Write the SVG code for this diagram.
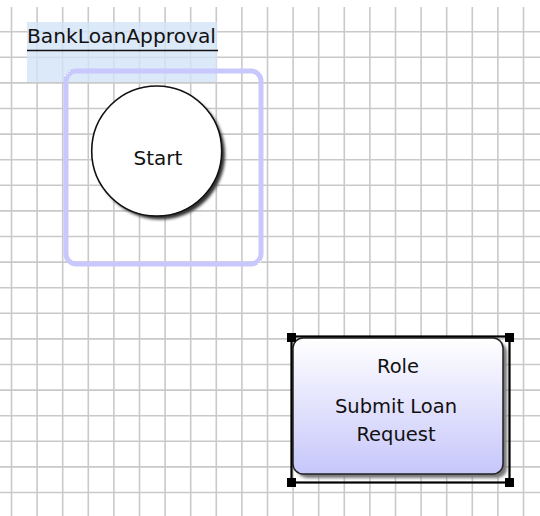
<svg xmlns="http://www.w3.org/2000/svg" width="540" height="516" viewBox="0 0 540 516">
  <style>
    .grid line { stroke: #c9c9c9; stroke-width: 1.6; }
    .txt { font-family: "DejaVu Sans", Tahoma, sans-serif; fill: #111; }
  </style>
  <defs>
    <linearGradient id="roleFill" x1="0" y1="0" x2="0" y2="1">
      <stop offset="0" stop-color="#ffffff"/>
      <stop offset="1" stop-color="#c6c6fb"/>
    </linearGradient>
    <filter id="blur" x="-10%" y="-10%" width="120%" height="120%">
      <feGaussianBlur stdDeviation="1.5"/>
    </filter>
  </defs>
  <rect width="540" height="516" fill="#ffffff"/>
  <g class="grid">
    <line x1="11.5" y1="7" x2="11.5" y2="516"/>
    <line x1="37.1" y1="7" x2="37.1" y2="516"/>
    <line x1="62.7" y1="7" x2="62.7" y2="516"/>
    <line x1="88.3" y1="7" x2="88.3" y2="516"/>
    <line x1="113.9" y1="7" x2="113.9" y2="516"/>
    <line x1="139.5" y1="7" x2="139.5" y2="516"/>
    <line x1="165.1" y1="7" x2="165.1" y2="516"/>
    <line x1="190.7" y1="7" x2="190.7" y2="516"/>
    <line x1="216.3" y1="7" x2="216.3" y2="516"/>
    <line x1="241.9" y1="7" x2="241.9" y2="516"/>
    <line x1="267.5" y1="7" x2="267.5" y2="516"/>
    <line x1="293.1" y1="7" x2="293.1" y2="516"/>
    <line x1="318.7" y1="7" x2="318.7" y2="516"/>
    <line x1="344.3" y1="7" x2="344.3" y2="516"/>
    <line x1="369.9" y1="7" x2="369.9" y2="516"/>
    <line x1="395.5" y1="7" x2="395.5" y2="516"/>
    <line x1="421.1" y1="7" x2="421.1" y2="516"/>
    <line x1="446.7" y1="7" x2="446.7" y2="516"/>
    <line x1="472.3" y1="7" x2="472.3" y2="516"/>
    <line x1="497.9" y1="7" x2="497.9" y2="516"/>
    <line x1="523.5" y1="7" x2="523.5" y2="516"/>
    <line x1="0" y1="31.7" x2="540" y2="31.7"/>
    <line x1="0" y1="57.3" x2="540" y2="57.3"/>
    <line x1="0" y1="82.9" x2="540" y2="82.9"/>
    <line x1="0" y1="108.5" x2="540" y2="108.5"/>
    <line x1="0" y1="134.1" x2="540" y2="134.1"/>
    <line x1="0" y1="159.7" x2="540" y2="159.7"/>
    <line x1="0" y1="185.3" x2="540" y2="185.3"/>
    <line x1="0" y1="210.9" x2="540" y2="210.9"/>
    <line x1="0" y1="236.5" x2="540" y2="236.5"/>
    <line x1="0" y1="262.1" x2="540" y2="262.1"/>
    <line x1="0" y1="287.7" x2="540" y2="287.7"/>
    <line x1="0" y1="313.3" x2="540" y2="313.3"/>
    <line x1="0" y1="338.9" x2="540" y2="338.9"/>
    <line x1="0" y1="364.5" x2="540" y2="364.5"/>
    <line x1="0" y1="390.1" x2="540" y2="390.1"/>
    <line x1="0" y1="415.7" x2="540" y2="415.7"/>
    <line x1="0" y1="441.3" x2="540" y2="441.3"/>
    <line x1="0" y1="466.9" x2="540" y2="466.9"/>
    <line x1="0" y1="492.5" x2="540" y2="492.5"/>
  </g>

  <g id="title">
    <rect x="27" y="22" width="190" height="60" fill="#d3e3f7" fill-opacity="0.8"/>
    <text class="txt" x="27" y="43" font-size="19" textLength="189" lengthAdjust="spacingAndGlyphs">BankLoanApproval</text>
    <line x1="27" y1="50.5" x2="218" y2="50.5" stroke="#111" stroke-width="1.5"/>
  </g>

  <g id="start-selection">
    <rect x="66" y="71" width="195" height="193" rx="10" fill="none" stroke="#c8c8fd" stroke-width="5"/>
    <path d="M65 76 l5 -5 M258 264 l5 -5" stroke="#ffffff" stroke-width="1.2" stroke-dasharray="1.5 1.5"/>
  </g>

  <g id="start">
    <circle cx="160" cy="154.5" r="65" fill="#333" filter="url(#blur)"/>
    <circle cx="156.7" cy="151" r="65" fill="#ffffff" stroke="#111" stroke-width="1.6"/>
    <text class="txt" x="158" y="165" font-size="20" text-anchor="middle">Start</text>
  </g>

  <g id="role">
    <rect x="297" y="342" width="210" height="136" rx="10" fill="#777" filter="url(#blur)"/>
    <rect x="293" y="338" width="210" height="136" rx="10" fill="url(#roleFill)" stroke="#222" stroke-width="1.5"/>
    <text class="txt" x="398" y="373" font-size="19.5" text-anchor="middle">Role</text>
    <text class="txt" x="396" y="413" font-size="19.5" text-anchor="middle">Submit Loan</text>
    <text class="txt" x="396" y="441" font-size="19.5" text-anchor="middle">Request</text>
    <rect x="291.5" y="336.5" width="218" height="146" fill="none" stroke="#000" stroke-width="2.2"/>
    <rect x="287" y="333" width="9" height="9" fill="#000"/>
    <rect x="505" y="333" width="9" height="9" fill="#000"/>
    <rect x="287" y="478" width="9" height="9" fill="#000"/>
    <rect x="505" y="478" width="9" height="9" fill="#000"/>
  </g>
</svg>
